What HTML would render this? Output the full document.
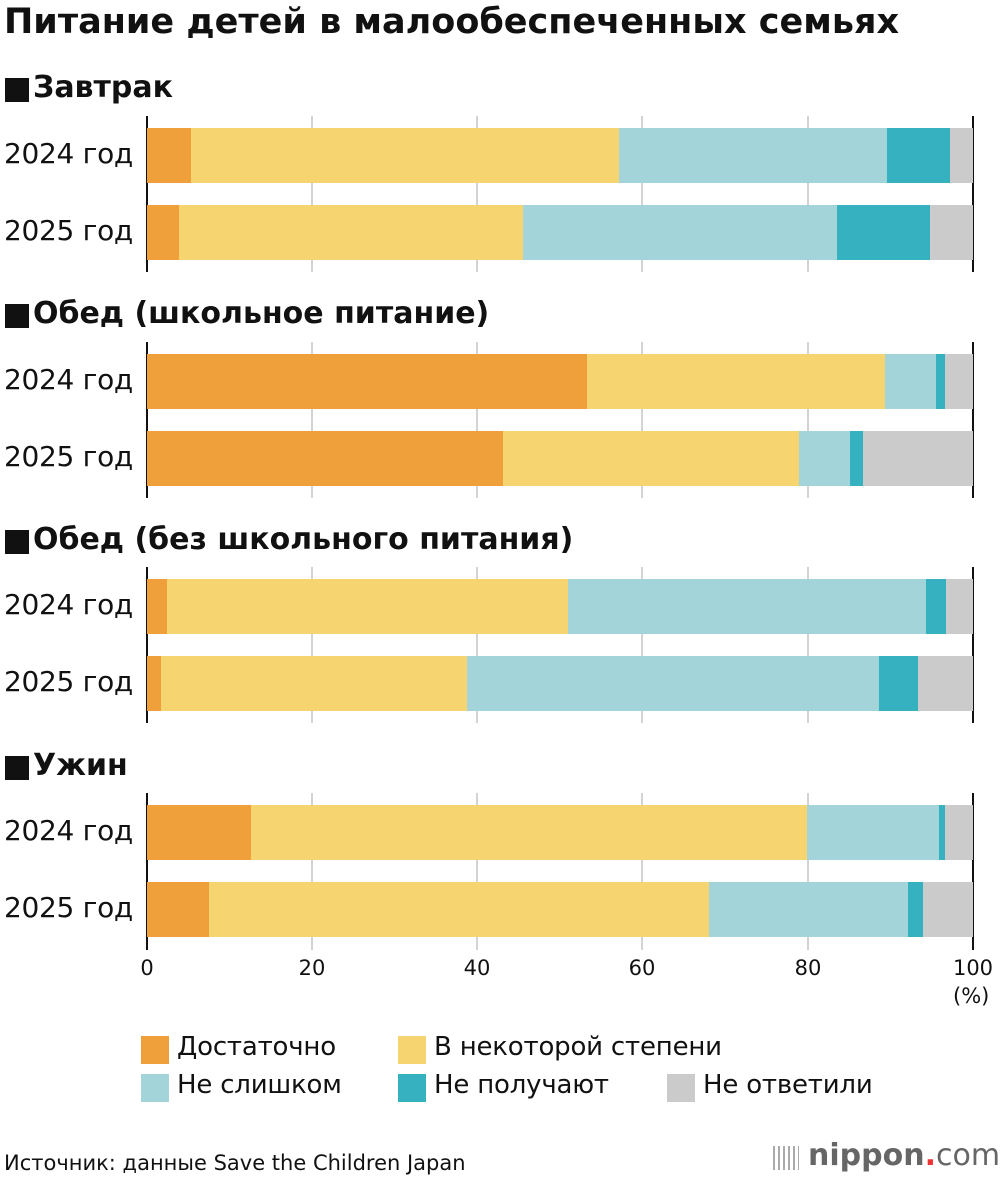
<!DOCTYPE html><html><head><meta charset="utf-8"><style>
body{margin:0;width:1000px;height:1180px;background:#fff;position:relative;font-family:"DejaVu Sans","Liberation Sans",sans-serif;color:#111;overflow:hidden}
.a{position:absolute;white-space:nowrap}
.t{font-weight:bold;font-size:35px;left:4px;letter-spacing:0px}
.h{font-weight:bold;font-size:30px;left:33px;letter-spacing:0px}
.sq{position:absolute;left:5px;width:24px;height:24px;background:#111}
.y{font-size:28px;left:4px;letter-spacing:-0.3px}
.g{position:absolute;width:2px;background:#d3d3d3}
.ax{position:absolute;width:2px;background:#111}
.s{position:absolute;height:55px}
.tk{position:absolute;font-size:21px;top:956px;transform:translateX(-50%)}
.lg{position:absolute;font-size:26px;letter-spacing:-0.2px}
.sw{position:absolute;width:28px;height:28px}
</style></head><body>
<div class="a t" style="top:2px">Питание детей в малообеспеченных семьях</div>
<div class="sq" style="top:78px"></div><div class="a h" style="top:70px">Завтрак</div>
<div class="sq" style="top:304px"></div><div class="a h" style="top:296px">Обед (школьное питание)</div>
<div class="sq" style="top:530px"></div><div class="a h" style="top:522px">Обед (без школьного питания)</div>
<div class="sq" style="top:756px"></div><div class="a h" style="top:748px">Ужин</div>
<div id="c"></div>
<div class="tk" style="left:147px">0</div><div class="tk" style="left:312px">20</div><div class="tk" style="left:477px">40</div><div class="tk" style="left:642px">60</div><div class="tk" style="left:808px">80</div><div class="tk" style="left:973px">100</div>
<div class="a" style="font-size:21px;left:953px;top:984px">(%)</div>
<div class="sw" style="left:141px;top:1036px;background:#f0a03a"></div><div class="lg" style="left:177px;top:1032px">Достаточно</div>
<div class="sw" style="left:398px;top:1036px;background:#f6d470"></div><div class="lg" style="left:434px;top:1032px">В некоторой степени</div>
<div class="sw" style="left:141px;top:1074px;background:#a3d4da"></div><div class="lg" style="left:177px;top:1070px">Не слишком</div>
<div class="sw" style="left:398px;top:1074px;background:#35b1c0"></div><div class="lg" style="left:434px;top:1070px">Не получают</div>
<div class="sw" style="left:667px;top:1074px;background:#cbcbcb"></div><div class="lg" style="left:703px;top:1070px">Не ответили</div>
<div class="a" style="font-size:21px;left:4px;top:1151px;letter-spacing:0px">Источник: данные Save the Children Japan</div>
<div class="a" style="font-size:30px;left:808px;top:1138px;color:#666;font-weight:bold">nippon<span style="color:#e33">.</span><span style="font-weight:normal">com</span></div>
<div class="a" style="left:773px;top:1146px;width:26px;height:24px;background:repeating-linear-gradient(90deg,#aaa 0 2px,transparent 2px 5px)"></div>
<script>
var C=['#f0a03a','#f6d470','#a3d4da','#35b1c0','#cbcbcb'];
var secs=[116,342,567,793];
var data=[[[191,619,887,950],[179,523,837,930]],[[587,885,936,945],[503,799,850,863]],[[167,568,926,946],[161,467,879,918]],[[251,807,939,945],[209,709,908,923]]];
var h='';
secs.forEach(function(t,i){
 var b=(i==3)?950:t+156;
 [312,477,642,808].forEach(function(x){h+='<div class="g" style="left:'+(x-1)+'px;top:'+t+'px;height:'+(b-t)+'px"></div>'});
 h+='<div class="ax" style="left:146px;top:'+t+'px;height:'+(b-t)+'px"></div>';
 h+='<div class="ax" style="left:972px;top:'+t+'px;height:'+(b-t)+'px"></div>';
 data[i].forEach(function(r,j){
  var y=t+12+j*77;var xs=[147].concat(r).concat([973]);
  for(var k=0;k<5;k++)h+='<div class="s" style="left:'+xs[k]+'px;width:'+(xs[k+1]-xs[k])+'px;top:'+y+'px;background:'+C[k]+'"></div>';
  h+='<div class="a y" style="top:'+(y+9)+'px">'+(j?'2025':'2024')+' год</div>';
 });
});
document.getElementById('c').innerHTML=h;
</script>
</body></html>
